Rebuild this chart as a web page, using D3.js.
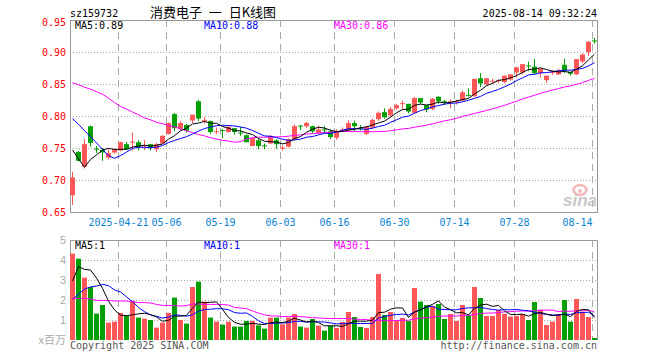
<!DOCTYPE html>
<html>
<head>
<meta charset="utf-8">
<script src="https://cdn.jsdelivr.net/npm/d3@7"></script>
<style>
	body{margin:0;background:#fff;}
	svg text{font-family:"DejaVu Sans Mono",monospace;font-size:10px;}
</style>
</head>
<body>
<div id="chart"></div>
<script>

// trading days 2025-04-09 .. 2025-08-14
const dates = [
	'04-09','04-10','04-11','04-14','04-15','04-16','04-17','04-18','04-21','04-22','04-23','04-24','04-25','04-28','04-29','04-30',
	'05-06','05-07','05-08','05-09','05-12','05-13','05-14','05-15','05-16','05-19','05-20','05-21','05-22','05-23','05-26','05-27','05-28','05-29','05-30',
	'06-03','06-04','06-05','06-06','06-09','06-10','06-11','06-12','06-13','06-16','06-17','06-18','06-19','06-20','06-23','06-24','06-25','06-26','06-27','06-30',
	'07-01','07-02','07-03','07-04','07-07','07-08','07-09','07-10','07-11','07-14','07-15','07-16','07-17','07-18','07-21','07-22','07-23','07-24','07-25','07-28','07-29','07-30','07-31',
	'08-01','08-04','08-05','08-06','08-07','08-08','08-11','08-12','08-13','08-14'
];

const open = [
	0.676,0.744,0.721,0.784,0.749,0.747,0.735,0.743,0.746,0.756,0.759,0.759,0.753,0.756,0.748,0.757,
	0.772,0.803,0.780,0.786,0.793,0.823,0.793,0.792,0.775,0.778,0.775,0.781,0.774,0.770,0.753,0.762,0.754,0.757,0.762,
	0.749,0.752,0.764,0.785,0.784,0.784,0.773,0.779,0.776,0.766,0.778,0.778,0.789,0.781,0.772,0.782,0.795,0.806,0.801,0.812,
	0.819,0.819,0.805,0.828,0.817,0.811,0.830,0.823,0.822,0.822,0.824,0.833,0.831,0.859,0.850,0.854,0.855,0.853,0.857,0.868,0.868,0.879,0.877,
	0.867,0.856,0.868,0.865,0.880,0.869,0.865,0.885,0.900,0.918
];
const high = [
	0.713,0.745,0.764,0.785,0.753,0.750,0.748,0.749,0.760,0.759,0.774,0.762,0.762,0.756,0.758,0.770,
	0.790,0.805,0.792,0.788,0.802,0.825,0.798,0.793,0.782,0.780,0.786,0.781,0.783,0.771,0.767,0.764,0.757,0.770,0.764,
	0.754,0.765,0.787,0.786,0.791,0.785,0.785,0.784,0.779,0.779,0.782,0.793,0.793,0.786,0.785,0.796,0.807,0.812,0.814,0.819,
	0.824,0.819,0.830,0.828,0.817,0.828,0.831,0.825,0.826,0.825,0.840,0.843,0.858,0.867,0.859,0.858,0.857,0.863,0.865,0.877,0.881,0.885,0.889,
	0.874,0.863,0.871,0.874,0.889,0.869,0.889,0.898,0.917,0.922
];
const low = [
	0.661,0.729,0.718,0.752,0.742,0.730,0.732,0.741,0.745,0.747,0.746,0.746,0.747,0.746,0.744,0.757,
	0.771,0.776,0.778,0.774,0.789,0.792,0.788,0.772,0.772,0.766,0.774,0.771,0.769,0.759,0.753,0.748,0.748,0.757,0.749,
	0.746,0.751,0.762,0.778,0.781,0.773,0.773,0.773,0.764,0.763,0.776,0.776,0.776,0.777,0.770,0.780,0.792,0.796,0.798,0.810,
	0.811,0.804,0.804,0.819,0.806,0.809,0.819,0.817,0.812,0.818,0.824,0.830,0.830,0.845,0.847,0.851,0.851,0.851,0.855,0.860,0.865,0.870,0.865,
	0.860,0.852,0.864,0.864,0.867,0.863,0.864,0.883,0.894,0.913
];
const close = [
	0.704,0.730,0.756,0.758,0.748,0.743,0.742,0.748,0.759,0.748,0.760,0.751,0.754,0.751,0.756,0.769,
	0.789,0.781,0.789,0.777,0.802,0.796,0.794,0.775,0.776,0.777,0.783,0.775,0.773,0.759,0.765,0.753,0.753,0.769,0.756,
	0.751,0.764,0.784,0.784,0.789,0.776,0.779,0.778,0.767,0.777,0.779,0.789,0.784,0.780,0.783,0.794,0.805,0.798,0.811,0.817,
	0.820,0.807,0.828,0.821,0.810,0.827,0.823,0.822,0.823,0.823,0.837,0.832,0.858,0.851,0.859,0.855,0.856,0.863,0.865,0.876,0.881,0.878,0.867,
	0.874,0.863,0.869,0.871,0.871,0.866,0.889,0.896,0.916,0.917
];

// volume, millions
const volume = [
	4.32,4.07,3.12,2.65,1.32,1.75,0.87,0.92,1.35,1.20,1.95,1.12,1.07,1.00,0.62,0.87,
	1.35,2.12,1.00,0.82,2.65,2.92,1.92,1.12,0.92,0.77,0.92,0.67,0.67,0.95,0.95,0.73,0.57,1.12,1.12,
	0.78,1.12,1.30,0.67,0.62,1.05,0.72,0.47,0.70,0.60,0.90,1.40,1.15,0.65,0.60,1.15,3.30,1.25,1.40,0.95,
	1.10,0.95,2.60,1.92,1.75,1.70,1.80,1.05,1.30,0.95,1.75,1.25,2.65,2.10,1.20,1.20,1.50,1.30,1.17,1.20,1.30,1.00,1.90,
	1.50,0.75,0.92,1.27,2.00,0.92,2.05,1.42,1.15,0.10
];

// moving average values before enough history is on screen
const ma5Head = [0.747,0.733,0.720,0.732];
const ma10Head = [0.796,0.787,0.777,0.768,0.758,0.748,0.738,0.734,0.738];
const ma30Head = [0.852,0.849,0.845,0.842,0.838,0.834,0.828,0.821,0.815,0.811,0.806,0.802,0.797,0.794,0.790,
	0.788,0.785,0.783,0.780,0.777,0.774,0.771,0.769,0.766,0.764,0.762,0.761,0.759,0.760];
const volMa5Head = [2.95,3.67,3.53,3.50];
const volMa10Head = [2.03,2.30,2.55,2.65,2.70,2.78,2.72,2.50,2.40];
const volMa30Head = [2.08,2.08,2.08,2.05,1.98,1.98,1.97,1.95,1.95,1.95,1.93,1.87,1.87,1.85,1.78,
	1.73,1.73,1.72,1.70,1.72,1.80,1.80,1.78,1.78,1.78,1.77,1.75,1.63,1.60];

const tickDates = ['04-21','05-06','05-19','06-03','06-16','06-30','07-14','07-28','08-14'];
const tickLabels = ['2025-04-21','05-06','05-19','06-03','06-16','06-30','07-14','07-28','08-14'];
const priceTicks = [0.95,0.90,0.85,0.80,0.75,0.70,0.65];
const volTicks = [5,4,3,2,1];

// legend values as printed on the chart
const priceMaLabels = ['MA5:0.89','MA10:0.88','MA30:0.86'];
const volMaLabels = ['MA5:1','MA10:1','MA30:1'];

const code = 'sz159732';
const title = '消费电子 一 日K线图';
const stamp = '2025-08-14 09:32:24';

////////////////////////////////////////////////////////////////////

const RED = '#ff5757', GREEN = '#00a000', GRID = '#aaa', FRAME = '#999';
const MA_COLORS = ['#000','#0000ff','#ff00ff'];
const W = 660, H = 360;
const frame = {l:70, r:597, pt:20, pb:212, vt:240, vb:340};

function movingAvg(arr, n, head){
	return arr.map(function(d,i){
		if(i < n-1) return head[i];
		return d3.mean(arr.slice(i-n+1, i+1));
	});
}

const ma5 = movingAvg(close, 5, ma5Head);
const ma10 = movingAvg(close, 10, ma10Head);
const ma30 = movingAvg(close, 30, ma30Head);
const vma5 = movingAvg(volume, 5, volMa5Head);
const vma10 = movingAvg(volume, 10, volMa10Head);
const vma30 = movingAvg(volume, 30, volMa30Head);

const data = dates.map(function(d,i){
	return {date:d, o:open[i], h:high[i], l:low[i], c:close[i], v:volume[i]};
});

const svg = d3.select('#chart').append('svg')
	.attr('width', W)
	.attr('height', H);

// left pixel of each candle cell
const scaleX = d3.scalePoint()
	.domain(dates)
	.range([frame.l, frame.l + 6*(dates.length-1)]);
const cx = function(d){ return scaleX(d) + 2.5; };

const scaleY = d3.scaleLinear().domain([0.65,0.95]).range([frame.pb, frame.pt]);
const scaleV = d3.scaleLinear().domain([0,5]).range([frame.vb, frame.vt]);

const crisp = function(v){ return Math.round(v) + 0.5; };

////////////////////////////////////////////////////////////////////
// grid

const grid = svg.append('g').attr('class','grid');

grid.selectAll('.hp')
	.data(priceTicks.slice(1))
	.enter().append('line')
	.attr('x1', frame.l).attr('x2', frame.r)
	.attr('y1', function(d){ return crisp(scaleY(d)); })
	.attr('y2', function(d){ return crisp(scaleY(d)); })
	.attr('stroke', GRID).attr('stroke-dasharray','1,2');

grid.selectAll('.hv')
	.data(volTicks.slice(1))
	.enter().append('line')
	.attr('x1', frame.l).attr('x2', frame.r)
	.attr('y1', function(d){ return crisp(scaleV(d)); })
	.attr('y2', function(d){ return crisp(scaleV(d)); })
	.attr('stroke', GRID).attr('stroke-dasharray','1,2');

[[frame.pt, frame.pb],[frame.vt, frame.vb]].forEach(function(r){
	grid.selectAll(null)
		.data(tickDates)
		.enter().append('line')
		.attr('x1', function(d){ return scaleX(d) + 0.5; })
		.attr('x2', function(d){ return scaleX(d) + 0.5; })
		.attr('y1', r[0]).attr('y2', r[1])
		.attr('stroke', GRID).attr('stroke-dasharray','7,5');
});

////////////////////////////////////////////////////////////////////
// frames

svg.append('rect')
	.attr('x', frame.l+0.5).attr('y', frame.pt+0.5)
	.attr('width', frame.r-frame.l).attr('height', frame.pb-frame.pt)
	.attr('fill','none').attr('stroke', FRAME);

svg.append('path')
	.attr('d', `M${frame.l+0.5},${frame.vb}V${frame.vt+0.5}H${frame.r+0.5}V${frame.vb}`)
	.attr('fill','none').attr('stroke', FRAME);

////////////////////////////////////////////////////////////////////
// watermark

const logo = svg.append('g').attr('class','logo');
logo.append('ellipse')
	.attr('cx', 580).attr('cy', 190).attr('rx', 6.5).attr('ry', 5)
	.attr('fill','none').attr('stroke','#f2b8b8').attr('stroke-width',2.5);
logo.append('circle')
	.attr('cx', 580).attr('cy', 191).attr('r', 2)
	.attr('fill','#f2b8b8');
logo.append('text')
	.attr('x', 597).attr('y', 206)
	.attr('text-anchor','end')
	.style('font-family','"Liberation Sans",Arial,sans-serif')
	.style('font-size','17px').style('font-style','italic').style('font-weight','bold')
	.attr('fill','#c8c8c8')
	.text('sina');

////////////////////////////////////////////////////////////////////
// candles

const candles = svg.append('g').attr('class','candles')
	.selectAll('.candle')
	.data(data)
	.enter().append('g')
	.attr('class','candle');

candles.append('line')
	.attr('x1', function(d){ return cx(d.date); })
	.attr('x2', function(d){ return cx(d.date); })
	.attr('y1', function(d){ return scaleY(d.h); })
	.attr('y2', function(d){ return scaleY(d.l); })
	.attr('stroke', function(d){ return d.c >= d.o ? RED : GREEN; });

candles.append('rect')
	.attr('x', function(d){ return scaleX(d.date); })
	.attr('width', 5)
	.attr('y', function(d){ return scaleY(Math.max(d.o,d.c)); })
	.attr('height', function(d){ return Math.max(1, Math.abs(scaleY(d.o)-scaleY(d.c))); })
	.attr('fill', function(d){ return d.c >= d.o ? RED : GREEN; });

////////////////////////////////////////////////////////////////////
// volume bars

svg.append('g').attr('class','bars')
	.selectAll('rect')
	.data(data)
	.enter().append('rect')
	.attr('x', function(d){ return scaleX(d.date); })
	.attr('width', 5)
	.attr('y', function(d){ return Math.min(scaleV(d.v), frame.vb-1); })
	.attr('height', function(d){ return Math.max(1, frame.vb - scaleV(d.v)); })
	.attr('fill', function(d){ return d.c >= d.o ? RED : GREEN; });

////////////////////////////////////////////////////////////////////
// MA lines

function drawLine(values, y, color){
	const line = d3.line()
		.x(function(d,i){ return cx(dates[i]); })
		.y(function(d){ return y(d); });
	svg.append('path')
		.datum(values)
		.attr('d', line)
		.attr('fill','none')
		.attr('stroke', color)
		.attr('stroke-width', 1);
}

drawLine(ma30, scaleY, MA_COLORS[2]);
drawLine(ma10, scaleY, MA_COLORS[1]);
drawLine(ma5, scaleY, MA_COLORS[0]);
drawLine(vma30, scaleV, MA_COLORS[2]);
drawLine(vma10, scaleV, MA_COLORS[1]);
drawLine(vma5, scaleV, MA_COLORS[0]);

////////////////////////////////////////////////////////////////////
// axes text

svg.append('g').selectAll('text')
	.data(priceTicks)
	.enter().append('text')
	.attr('x', 66)
	.attr('y', function(d){ return Math.max(scaleY(d), 22); })
	.attr('dy','0.35em')
	.attr('text-anchor','end')
	.attr('fill','#f00')
	.text(function(d){ return d.toFixed(2); });

svg.append('g').selectAll('text')
	.data(volTicks)
	.enter().append('text')
	.attr('x', 66)
	.attr('y', function(d){ return scaleV(d); })
	.attr('dy','0.35em')
	.attr('text-anchor','end')
	.attr('fill','#aaa')
	.style('font-family','"Liberation Sans",Arial,sans-serif')
	.style('font-size','11px')
	.text(function(d){ return d; });

svg.append('text')
	.attr('x', 66).attr('y', 344)
	.attr('text-anchor','end')
	.attr('fill','#aaa')
	.style('font-family','"Noto Sans CJK SC",sans-serif')
	.style('font-size','11px')
	.text('x百万');

svg.append('g').selectAll('text')
	.data(tickDates)
	.enter().append('text')
	.attr('x', function(d){ return scaleX(d) + 0.5; })
	.attr('y', 226)
	.attr('text-anchor', function(d,i){ return i === tickDates.length-1 ? 'end' : 'middle'; })
	.attr('fill','#0a82d2')
	.text(function(d,i){ return tickLabels[i]; });

////////////////////////////////////////////////////////////////////
// header / legend / footer

svg.append('text').attr('x', 70).attr('y', 17).attr('fill','#000').text(code);
svg.append('text').attr('x', 213).attr('y', 17)
	.attr('text-anchor','middle').attr('fill','#000')
	.style('font-family','"Noto Sans CJK SC",sans-serif')
	.style('font-size','13px')
	.style('word-spacing','4px')
	.text(title);
svg.append('text').attr('x', 597).attr('y', 17).attr('text-anchor','end').attr('fill','#000').text(stamp);

const legendX = [75, 204, 334];
[[priceMaLabels, 29],[volMaLabels, 249]].forEach(function(g){
	svg.append('g').selectAll('text')
		.data(g[0])
		.enter().append('text')
		.attr('x', function(d,i){ return legendX[i]; })
		.attr('y', g[1])
		.attr('fill', function(d,i){ return MA_COLORS[i]; })
		.text(function(d){ return d; });
});

svg.append('text').attr('x', 70).attr('y', 349).attr('fill','#555').text('Copyright 2025 SINA.COM');
svg.append('text').attr('x', 597).attr('y', 349).attr('text-anchor','end').attr('fill','#555').text('http://finance.sina.com.cn');

</script>
</body>
</html>
